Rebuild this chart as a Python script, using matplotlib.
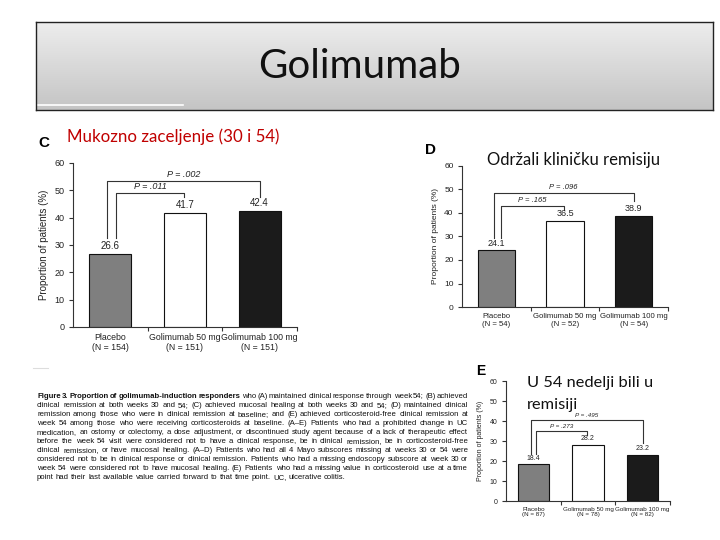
import matplotlib
matplotlib.use("Agg")
import matplotlib.pyplot as plt
import numpy as np

W, H = 720, 540
fig = plt.figure(figsize=(7.2, 5.4), dpi=100)
fig.patch.set_facecolor("white")

# ---------------- data ----------------
groups = ["Placebo", "Golimumab 50 mg", "Golimumab 100 mg"]
n_C = [154, 151, 151]
n_D = [54, 52, 54]
n_E = [87, 78, 82]
values_C = [26.6, 41.7, 42.4]
values_D = [24.1, 36.5, 38.9]
values_E = [18.4, 28.2, 23.2]
p_C = ["P = .011", "P = .002"]   # 50 mg vs placebo, 100 mg vs placebo
p_D = ["P = .165", "P = .096"]
p_E = ["P = .273", "P = .495"]
yticks = [0, 10, 20, 30, 40, 50, 60]
bar_colors = ["#7f7f7f", "#ffffff", "#1b1b1b"]

SANS = "Liberation Sans"
SLIDE = "Lato"

def px_axes(l, r, top, bottom):
    return fig.add_axes([l / W, (H - bottom) / H, (r - l) / W, (bottom - top) / H])

def fx(x):
    return x / W

def fy(y):
    return 1 - y / H

# ---------------- title box ----------------
tax = px_axes(36, 713, 22, 110)
grad = np.linspace(0.93, 0.77, 100).reshape(-1, 1)
tax.imshow(np.dstack([grad, grad, grad]), aspect="auto", extent=[0, 1, 0, 1],
           interpolation="bicubic")
tax.set_xlim(0, 1); tax.set_ylim(0, 1)
tax.set_xticks([]); tax.set_yticks([])
for s in tax.spines.values():
    s.set_color("#222222"); s.set_linewidth(1.0)
tax.plot([0.0, 147 / 677], [0.06, 0.06], color="white", lw=1.2)
tax.text(0.478, 0.5, "Golimumab", ha="center", va="center", fontsize=29,
         family=SLIDE, color="#111111")

# ---------------- panel helper ----------------
def panel(box, values, ns, pvals, brackets, fs_tick, fs_xlab, fs_val, fs_p, ylab_fs, width):
    ax = px_axes(*box)
    x = np.arange(len(values))
    ax.bar(x, values, width=width, color=bar_colors, edgecolor="#111111", linewidth=0.8)
    ax.set_xlim(-0.5, 2.5)
    ax.set_ylim(0, 60)
    ax.set_yticks(yticks)
    ax.set_yticklabels([str(t) for t in yticks], fontsize=fs_tick, family=SANS, color="#222222")
    ax.set_xticks([0.5, 1.5, 2.5])
    ax.set_xticklabels([])
    ax.set_xticks(x, minor=True)
    ax.set_xticklabels([f"{g}\n(N = {n})" for g, n in zip(groups, ns)], minor=True,
                       fontsize=fs_xlab, family=SANS, color="#222222")
    ax.tick_params(axis="x", which="minor", length=0, pad=4)
    ax.tick_params(axis="x", which="major", length=3, width=0.8, direction="out", color="#333333")
    ax.tick_params(axis="y", length=3, width=0.8, direction="out", color="#333333", pad=3)
    for s in ["top", "right"]:
        ax.spines[s].set_visible(False)
    for s in ["left", "bottom"]:
        ax.spines[s].set_color("#333333"); ax.spines[s].set_linewidth(0.8)
    ax.set_ylabel("Proportion of patients (%)", fontsize=ylab_fs, family=SANS, color="#222222",
                  labelpad=4)
    for xi, v in zip(x, values):
        ax.text(xi, v + 1.2, f"{v:.1f}", ha="center", va="bottom", fontsize=fs_val,
                family=SANS, color="#222222")
    for (x1, x2, ytop, ylo1, ylo2), p in zip(brackets, pvals):
        ax.plot([x1, x1, x2, x2], [ylo1, ytop, ytop, ylo2], color="#333333", lw=0.8,
                clip_on=False)
        ax.text((x1 + x2) / 2, ytop + 0.8, p, ha="center", va="bottom", fontsize=fs_p,
                family=SANS, color="#222222", style="italic")
    return ax

# Panel C
panel((73, 297, 163, 327), values_C, n_C, p_C,
      [(0.07, 0.99, 49.0, 32.6, 47.6), (-0.04, 2.0, 53.4, 32.6, 47.6)],
      fs_tick=6.5, fs_xlab=6.3, fs_val=7, fs_p=6.5, ylab_fs=7, width=0.56)
# Panel D
panel((462, 668, 166, 307), values_D, n_D, p_D,
      [(0.07, 0.99, 43.0, 29.4, 41.3), (-0.04, 2.0, 48.5, 29.4, 45.0)],
      fs_tick=6, fs_xlab=5.6, fs_val=6.5, fs_p=5.5, ylab_fs=6, width=0.54)
# Panel E
panel((506, 670, 381, 501), values_E, n_E, p_E,
      [(0.05, 0.99, 35.0, 23.5, 33.0), (-0.05, 2.0, 40.5, 23.5, 29.0)],
      fs_tick=5.0, fs_xlab=4.5, fs_val=5.0, fs_p=4.5, ylab_fs=5, width=0.57)

# Panel letters and slide annotations
fig.text(fx(44), fy(143), "C", fontsize=11, weight="bold", family=SANS, ha="center", va="center")
fig.text(fx(430), fy(150), "D", fontsize=11, weight="bold", family=SANS, ha="center", va="center")
fig.text(fx(481), fy(371), "E", fontsize=10, weight="bold", family=SANS, ha="center", va="center")
fig.text(fx(67), fy(137), "Mukozno zaceljenje (30 i 54)", fontsize=12.2, family=SLIDE,
         color="#c00000", ha="left", va="center")
fig.text(fx(487), fy(160), "Održali kliničku remisiju", fontsize=12, family=SLIDE,
         color="#111111", ha="left", va="center")
fig.text(fx(527), fy(383), "U 54 nedelji bili u", fontsize=11.8, family=SLIDE,
         color="#111111", ha="left", va="center")
fig.text(fx(527), fy(405), "remisiji", fontsize=11.8, family=SLIDE,
         color="#111111", ha="left", va="center")
fig.add_artist(plt.Line2D([fx(33), fx(48)], [fy(368), fy(368)], color="#dddddd", lw=0.8))

# ---------------- caption (justified) ----------------
caption = [
    "Figure 3. Proportion of golimumab-induction responders who (A) maintained clinical response through week 54; (B) achieved",
    "clinical remission at both weeks 30 and 54; (C) achieved mucosal healing at both weeks 30 and 54; (D) maintained clinical",
    "remission among those who were in clinical remission at baseline; and (E) achieved corticosteroid-free clinical remission at",
    "week 54 among those who were receiving corticosteroids at baseline. (A–E) Patients who had a prohibited change in UC",
    "medication, an ostomy or colectomy, a dose adjustment, or discontinued study agent because of a lack of therapeutic effect",
    "before the week 54 visit were considered not to have a clinical response, be in clinical remission, be in corticosteroid-free",
    "clinical remission, or have mucosal healing. (A–D) Patients who had all 4 Mayo subscores missing at weeks 30 or 54 were",
    "considered not to be in clinical response or clinical remission. Patients who had a missing endoscopy subscore at week 30 or",
    "week 54 were considered not to have mucosal healing. (E) Patients who had a missing value in corticosteroid use at a time",
    "point had their last available value carried forward to that time point. UC, ulcerative colitis.",
]
cap_left, cap_right, cap_top, cap_step = 37, 468, 396, 9.1
CAP_FS = 5.6
renderer = fig.canvas.get_renderer()
sp = fig.text(0, 0, "a a", fontsize=CAP_FS, family=SANS)
sa = fig.text(0, 0, "aa", fontsize=CAP_FS, family=SANS)
space_w = sp.get_window_extent(renderer).width - sa.get_window_extent(renderer).width
sp.remove(); sa.remove()
for i, line in enumerate(caption):
    words = line.split(" ")
    y = fy(cap_top + i * cap_step)
    texts = []
    for j, wd in enumerate(words):
        bold = (i == 0 and j < 6)
        t = fig.text(0, y, wd, fontsize=CAP_FS, family=SANS, color="#111111", ha="left",
                     va="center", weight="bold" if bold else "normal")
        texts.append(t)
    widths = [t.get_window_extent(renderer).width for t in texts]
    total = sum(widths)
    if i < len(caption) - 1:
        gap = (cap_right - cap_left - total) / (len(words) - 1)
    else:
        gap = space_w
    xpos = cap_left
    for t, wdt in zip(texts, widths):
        t.set_x(fx(xpos))
        xpos += wdt + gap

fig.savefig("out.png", dpi=100, facecolor="white")
